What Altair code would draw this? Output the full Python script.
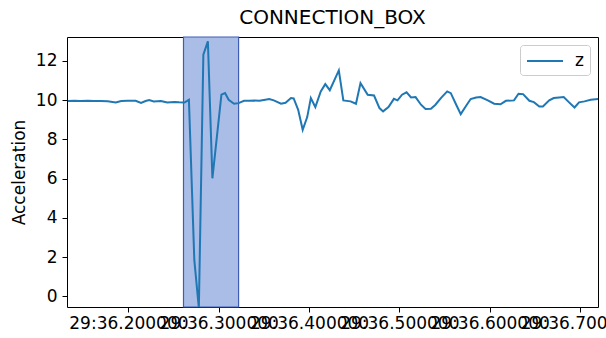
import altair as alt
import pandas as pd

# Acceleration samples (z axis), time given as milliseconds after 10:29:36
ms = [133, 140, 147, 155, 162, 169, 177, 186, 192, 199, 208, 214, 219, 223, 228,
      236, 243, 251, 256, 262, 267, 273, 278, 283, 288, 293, 303, 307, 311, 317,
      322, 328, 334, 340, 345, 350, 356, 361, 369, 374, 380, 383, 388, 393, 398,
      402, 407, 413, 418, 423, 433, 438, 446, 452, 457, 465, 472, 478, 482, 488,
      494, 498, 503, 508, 513, 518, 524, 529, 535, 540, 546, 553, 557, 563, 568,
      574, 579, 585, 590, 598, 605, 612, 618, 627, 632, 637, 644, 649, 655, 659,
      666, 671, 677, 682, 688, 694, 699, 705, 712, 721]
z = [9.95, 9.96, 9.95, 9.96, 9.95, 9.95, 9.94, 9.87, 9.95, 9.96, 9.96, 9.85, 9.95, 10.00, 9.93,
     9.95, 9.87, 9.90, 9.88, 9.87, 10.01, 1.84, -0.60, 12.31, 12.99, 6.01, 10.27, 10.35, 10.01, 9.81,
     9.84, 9.96, 9.96, 9.97, 9.96, 10.00, 10.05, 9.98, 9.81, 9.86, 10.10, 10.08, 9.50, 8.48, 9.13,
     10.10, 9.64, 10.44, 10.81, 10.50, 11.51, 9.98, 9.93, 9.81, 10.86, 10.27, 10.23, 9.59, 9.42, 9.64,
     10.06, 9.98, 10.27, 10.39, 10.13, 10.15, 9.76, 9.54, 9.55, 9.76, 10.10, 10.44, 10.35, 9.76, 9.28,
     9.71, 10.05, 10.13, 10.15, 9.98, 9.81, 9.78, 9.96, 9.98, 10.32, 10.30, 9.96, 9.89, 9.67, 9.67,
     9.98, 10.10, 10.13, 10.15, 9.88, 9.62, 9.88, 9.93, 10.01, 10.05]

# Highlighted event window (ms)
span_ms = [261.2, 322.1]

# X range and tick positions (ms)
x_range_ms = [132.8, 720.3]
tick_ms = [200, 300, 400, 500, 600, 700]
y_ticks = [0, 2, 4, 6, 8, 10, 12]
y_range = [-0.546, 13.21]


def stamp(m):
    whole = int(m)
    frac = int(round((m - whole) * 1000))
    return f"2021-06-01T10:29:36.{whole:03d}{frac:03d}Z"


def dt(m):
    return alt.DateTime(year=2021, month=6, date=1, hours=10, minutes=29,
                        seconds=36, milliseconds=m, utc=True)


df = pd.DataFrame({"time": [stamp(m) for m in ms], "z": z, "series": ["z"] * len(z)})
span_df = pd.DataFrame({"start": [stamp(span_ms[0])], "end": [stamp(span_ms[1])]})

x_scale = alt.Scale(type="utc", domain=[dt(x_range_ms[0]), dt(x_range_ms[1])], nice=False)

span = alt.Chart(span_df).mark_rect(
    fill="#a9bde6", stroke="#3f5db5", strokeWidth=1.2
).encode(
    x=alt.X("start:T", scale=x_scale),
    x2="end:T",
)

line = alt.Chart(df).mark_line(strokeWidth=2, clip=True).encode(
    x=alt.X(
        "time:T",
        scale=x_scale,
        title=None,
        axis=alt.Axis(
            values=[dt(m) for m in tick_ms],
            format="%M:%S.%f",
            labelOverlap=False,
            labelFlush=False,
            labelBound=False,
            grid=False,
            domain=False,
            tickSize=5,
            tickColor="black",
            labelFontSize=17,
            labelColor="black",
            labelPadding=3,
        ),
    ),
    y=alt.Y(
        "z:Q",
        scale=alt.Scale(domain=y_range, nice=False, zero=False),
        title="Acceleration",
        axis=alt.Axis(
            values=y_ticks,
            grid=False,
            domain=False,
            tickSize=5,
            tickColor="black",
            labelFontSize=17,
            labelColor="black",
            labelPadding=5,
            titleFontSize=17,
            titleFontWeight="normal",
            titleColor="black",
            titlePadding=7,
        ),
    ),
    color=alt.Color(
        "series:N",
        scale=alt.Scale(range=["#1f77b4"]),
        legend=alt.Legend(
            title=None,
            orient="top-right",
            offset=8,
            # a long horizontal stroke sample, wider than its layout box
            symbolType="M-1,0H3",
            symbolSize=324,
            symbolStrokeWidth=2,
            symbolFillColor="transparent",
            labelFontSize=17,
            labelColor="black",
            labelOffset=29,
            padding=6,
            strokeColor="#cccccc",
            fillColor="white",
            cornerRadius=3,
        ),
    ),
)

chart = alt.layer(span, line).properties(
    width=531,
    height=270,
    title=alt.TitleParams("CONNECTION_BOX", fontSize=20, fontWeight="normal",
                          color="black", offset=8),
    autosize=alt.AutoSizeParams(type="none"),
    padding={"left": 67, "top": 37, "right": 8, "bottom": 31},
).configure(
    font="DejaVu Sans",
).configure_view(
    stroke="black",
    strokeWidth=1,
)

chart.save("out.html", embed_options={"renderer": "svg", "actions": False})
